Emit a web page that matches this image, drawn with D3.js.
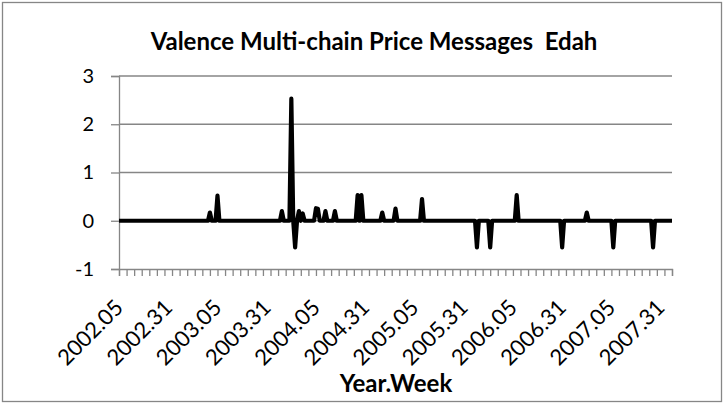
<!DOCTYPE html>
<html>
<head>
<meta charset="utf-8">
<script src="https://cdn.jsdelivr.net/npm/d3@7"></script>
<style>
    body { margin: 0; background: #fff; }
    text { font-family: Lato, "Open Sans", sans-serif; fill: #000; }
    .grid line { stroke: #868686; stroke-width: 1.3; }
    .axis path, .axis line { stroke: #868686; stroke-width: 1.3; }
    .pathLine { fill: none; stroke: #000; stroke-width: 4.2; stroke-linejoin: round; }
</style>
</head>
<body>
<svg id="container" width="724" height="404"></svg>
<script>
    // Categories: year.week from 2002.05 to 2007.37
    const startYear = 2002, startWeek = 5, endYear = 2007, endWeek = 37;
    const weeks = [];
    for (let y = startYear; y <= endYear; y++) {
        const w0 = y === startYear ? startWeek : 1;
        const w1 = y === endYear ? endWeek : 52;
        for (let w = w0; w <= w1; w++) weeks.push(y + "." + String(w).padStart(2, "0"));
    }

    // Non-zero weeks, every other week is 0
    const eventWeeks = ["2003.01", "2003.05", "2003.39", "2003.44", "2003.46", "2003.48", "2003.50",
        "2004.05", "2004.06", "2004.10", "2004.15", "2004.27", "2004.29", "2004.40", "2004.47",
        "2005.09", "2005.38", "2005.45", "2006.07", "2006.31", "2006.44", "2007.06", "2007.27"];
    const eventValues = [0.17, 0.52, 0.2, 2.53, -0.55, 0.2, 0.15,
        0.26, 0.25, 0.2, 0.2, 0.53, 0.53, 0.17, 0.25,
        0.45, -0.55, -0.55, 0.53, -0.55, 0.17, -0.55, -0.55];

    const xLabels = ["2002.05", "2002.31", "2003.05", "2003.31", "2004.05", "2004.31",
        "2005.05", "2005.31", "2006.05", "2006.31", "2007.05", "2007.31"];
    const yTicks = [-1, 0, 1, 2, 3];

    const data = weeks.map(w => {
        const i = eventWeeks.indexOf(w);
        return { week: w, value: i >= 0 ? eventValues[i] : 0 };
    });

    const svg = d3.select("#container");
    const plotLeft = 119, plotRight = 672, plotTop = 76, plotBottom = 269;

    // chart border
    svg.append("rect")
        .attr("x", 2.5).attr("y", 2.5)
        .attr("width", 719).attr("height", 399)
        .attr("fill", "#fff")
        .attr("stroke", "#868686")
        .attr("stroke-width", 1.3);

    const xScale = d3.scalePoint()
        .domain(weeks)
        .range([plotLeft, plotRight]);

    const yScale = d3.scaleLinear()
        .domain([-1, 3])
        .range([plotBottom, plotTop]);

    // gridlines
    svg.append("g")
        .attr("class", "grid")
        .selectAll("line")
        .data(yTicks.filter(d => d !== -1))
        .join("line")
        .attr("x1", plotLeft).attr("x2", plotRight)
        .attr("y1", d => yScale(d)).attr("y2", d => yScale(d));

    // y axis
    const yAxis = svg.append("g")
        .attr("class", "axis")
        .attr("transform", `translate(${plotLeft},0)`)
        .call(d3.axisLeft(yScale).tickValues(yTicks).tickSize(8).tickPadding(17).tickFormat(d => String(d)));
    yAxis.selectAll("text").style("font-size", "20px");

    // x axis: minor ticks every 4 weeks
    svg.append("g")
        .attr("class", "axis")
        .attr("transform", `translate(0,${plotBottom})`)
        .call(d3.axisBottom(xScale)
            .tickValues(weeks.filter((d, i) => i % 4 === 0))
            .tickSize(7)
            .tickFormat(""));

    // x labels every 26 weeks
    const xLab = svg.append("g")
        .attr("transform", `translate(0,${plotBottom})`)
        .call(d3.axisBottom(xScale).tickValues(xLabels).tickSize(0).tickPadding(0));
    xLab.select(".domain").remove();
    xLab.selectAll("text")
        .style("font-size", "22px")
        .attr("text-anchor", "end")
        .attr("dy", null)
        .attr("y", 0)
        .attr("transform", "translate(5,40) rotate(-45)");

    // line
    const valueLine = d3.line()
        .x(d => xScale(d.week))
        .y(d => yScale(d.value));

    svg.append("path")
        .datum(data)
        .attr("class", "pathLine")
        .attr("d", valueLine);

    // titles
    svg.append("text")
        .attr("x", 374).attr("y", 50)
        .attr("text-anchor", "middle")
        .style("white-space", "pre")
        .style("font-size", "24px").style("font-weight", "bold")
        .text("Valence Multi-chain Price Messages  Edah");

    svg.append("text")
        .attr("x", 396).attr("y", 392)
        .attr("text-anchor", "middle")
        .style("font-size", "24px").style("font-weight", "bold")
        .text("Year.Week");
</script>
</body>
</html>
